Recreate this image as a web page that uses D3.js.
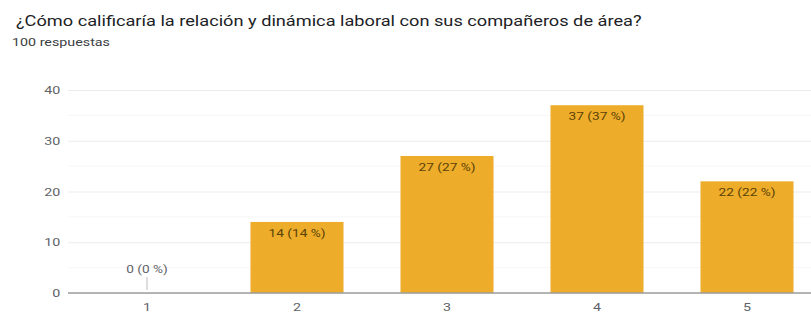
<!DOCTYPE html>
<html>
<head>
<meta charset="utf-8">
<script src="https://cdn.jsdelivr.net/npm/d3@7"></script>
<style>
  body { margin: 0; background: #fff; }
  text { font-family: Roboto, Arial, sans-serif; }
</style>
</head>
<body>
<div id="chart"></div>
<script>
// data
var categories = ['1', '2', '3', '4', '5'];
var counts = [0, 14, 27, 37, 22];
var totalAnswers = 100;
var yTicks = [0, 10, 20, 30, 40];
var titleText = '¿Cómo calificaría la relación y dinámica laboral con sus compañeros de área?';
var subtitleText = totalAnswers + ' respuestas';

var attrs = {
  svgWidth: 811,
  svgHeight: 314,
  plotLeft: 72,
  plotRight: 822,
  plotTop: 90,
  plotBottom: 293,
  barColor: '#EDAC2A',
  textStretch: 1.3   // the reference glyphs are wider than plain Roboto
};

var svg = d3.select('#chart')
  .append('svg')
  .attr('width', attrs.svgWidth)
  .attr('height', attrs.svgHeight);

function placeText(sel, x, y) {
  return sel.attr('transform', 'translate(' + x + ',' + y + ') scale(' + attrs.textStretch + ',1)');
}

// titles
svg.append('text')
  .call(placeText, 16, 26)
  .attr('font-size', 14)
  .attr('fill', '#202124')
  .text(titleText);

svg.append('text')
  .call(placeText, 12, 46)
  .attr('font-size', 11)
  .attr('fill', '#3c4043')
  .text(subtitleText);

var xScale = d3.scaleBand()
  .domain(categories)
  .range([attrs.plotLeft, attrs.plotRight])
  .paddingInner(0.38)
  .paddingOuter(0.19);

var yScale = d3.scaleLinear()
  .domain([0, 40])
  .range([attrs.plotBottom, attrs.plotTop]);

var chart = svg.append('g');

// minor gridlines
chart.selectAll('.minor')
  .data(d3.range(5, 40, 10))
  .enter().append('line')
  .attr('class', 'minor')
  .attr('x1', attrs.plotLeft - 4).attr('x2', attrs.plotRight)
  .attr('y1', function (d) { return yScale(d); })
  .attr('y2', function (d) { return yScale(d); })
  .attr('stroke', '#f6f6f6');

// y axis with gridlines
var yAxis = d3.axisLeft(yScale)
  .tickValues(yTicks)
  .tickSize(-(attrs.plotRight - attrs.plotLeft + 4))
  .tickPadding(6);

var yg = chart.append('g')
  .attr('transform', 'translate(' + (attrs.plotLeft - 4) + ',0)')
  .call(yAxis);
yg.select('.domain').remove();
yg.selectAll('.tick line').attr('stroke', '#ebebeb');
yg.selectAll('.tick text')
  .attr('font-size', 11)
  .attr('fill', '#5f6368')
  .attr('font-family', 'Roboto, Arial, sans-serif')
  .attr('transform', 'scale(' + attrs.textStretch + ',1)');

// bars
chart.selectAll('.bar')
  .data(counts)
  .enter().append('rect')
  .attr('class', 'bar')
  .attr('x', function (d, i) { return xScale(categories[i]); })
  .attr('y', function (d) { return yScale(d); })
  .attr('width', xScale.bandwidth())
  .attr('height', function (d) { return attrs.plotBottom - yScale(d); })
  .attr('fill', attrs.barColor);

// value labels
chart.selectAll('.lbl')
  .data(counts)
  .enter().append('text')
  .attr('class', 'lbl')
  .each(function (d, i) {
    var cx = xScale(categories[i]) + xScale.bandwidth() / 2;
    var cy = d > 0 ? yScale(d) + 15 : yScale(d) - 20;
    placeText(d3.select(this), cx, cy);
  })
  .attr('text-anchor', 'middle')
  .attr('font-size', 10.5)
  .attr('fill', function (d) { return d > 0 ? '#5b4308' : '#5f6368'; })
  .text(function (d) { return d + ' (' + Math.round(d / totalAnswers * 100) + ' %)'; });

// leader for zero bar
chart.selectAll('.lead')
  .data(counts.filter(function (d) { return d === 0; }))
  .enter().append('line')
  .attr('x1', xScale(categories[0]) + xScale.bandwidth() / 2)
  .attr('x2', xScale(categories[0]) + xScale.bandwidth() / 2)
  .attr('y1', attrs.plotBottom - 16)
  .attr('y2', attrs.plotBottom - 3)
  .attr('stroke', '#bdbdbd');

// x axis baseline
var xAxis = d3.axisBottom(xScale).tickSize(0).tickPadding(10);
var xg = chart.append('g')
  .attr('transform', 'translate(0,' + attrs.plotBottom + ')')
  .call(xAxis);
xg.select('.domain')
  .attr('stroke', '#9e9e9e')
  .attr('stroke-width', 1.5)
  .attr('d', 'M' + (attrs.plotLeft - 4) + ',0H' + attrs.plotRight);
xg.selectAll('.tick text')
  .attr('font-size', 11)
  .attr('fill', '#5f6368')
  .attr('font-family', 'Roboto, Arial, sans-serif')
  .attr('transform', 'scale(' + attrs.textStretch + ',1)');
</script>
</body>
</html>
